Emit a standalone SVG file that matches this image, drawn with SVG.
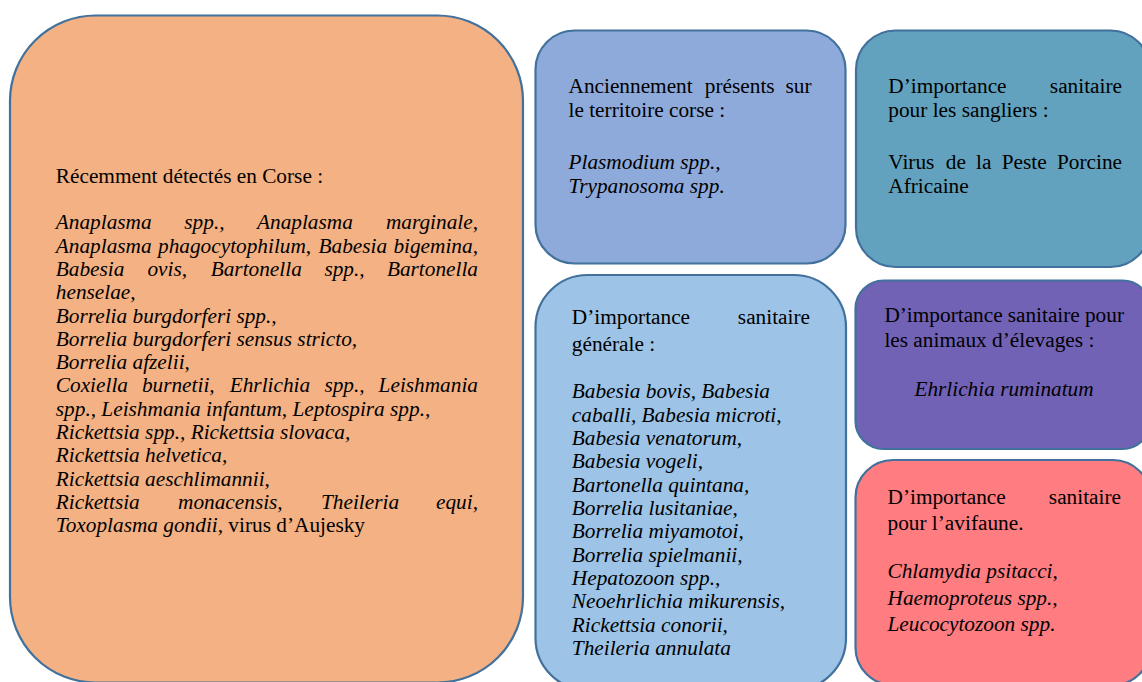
<svg xmlns="http://www.w3.org/2000/svg" width="1142" height="682" viewBox="0 0 1142 682">
<style>
.box{stroke:#41719C;stroke-width:2.2}
text{font-family:"Liberation Serif","Times New Roman",serif;font-size:21.3px;fill:#000}
.i{font-style:italic}
.e{text-anchor:end}
.m{text-anchor:middle}
</style>
<rect width="1142" height="682" fill="#fff"/>
<g id="recemment">
<rect class="box" x="10" y="15.5" width="513" height="667" rx="85.5" fill="#F4B183"/>
<text x="55.8" y="182.7">Récemment détectés en Corse :</text>
<text class="i" y="229.3"><tspan x="55.8">Anaplasma</tspan><tspan x="184.3">spp.,</tspan><tspan x="257">Anaplasma</tspan></text>
<text class="i e" x="478" y="229.3">marginale,</text>
<text class="i" y="252.6"><tspan x="55.8">Anaplasma</tspan><tspan x="158">phagocytophilum,</tspan><tspan x="318.5">Babesia</tspan></text>
<text class="i e" x="478" y="252.6">bigemina,</text>
<text class="i" y="275.9"><tspan x="55.8">Babesia</tspan><tspan x="147.4">ovis,</tspan><tspan x="210.7">Bartonella</tspan><tspan x="324.4">spp.,</tspan></text>
<text class="i e" x="478" y="275.9">Bartonella</text>
<text class="i" x="55.8" y="299.2">henselae,</text>
<text class="i" x="55.8" y="322.5">Borrelia burgdorferi spp.,</text>
<text class="i" x="55.8" y="345.8">Borrelia burgdorferi sensus stricto,</text>
<text class="i" x="55.8" y="369.1">Borrelia afzelii,</text>
<text class="i" y="392.4"><tspan x="55.8">Coxiella</tspan><tspan x="141.9">burnetii,</tspan><tspan x="229.7">Ehrlichia</tspan><tspan x="324.4">spp.,</tspan></text>
<text class="i e" x="478" y="392.4">Leishmania</text>
<text class="i" x="55.8" y="415.7">spp., Leishmania infantum, Leptospira spp.,</text>
<text class="i" x="55.8" y="439">Rickettsia spp., Rickettsia slovaca,</text>
<text class="i" x="55.8" y="462.3">Rickettsia helvetica,</text>
<text class="i" x="55.8" y="485.6">Rickettsia aeschlimannii,</text>
<text class="i" y="508.9"><tspan x="55.8">Rickettsia</tspan><tspan x="178">monacensis,</tspan><tspan x="321">Theileria</tspan></text>
<text class="i e" x="478" y="508.9">equi,</text>
<text x="55.8" y="532.2"><tspan class="i">Toxoplasma gondii,</tspan> virus d’Aujesky</text>
</g>
<g id="anciennement">
<rect class="box" x="535.5" y="30.5" width="310" height="233" rx="39" fill="#8EAADB"/>
<text y="92.7"><tspan x="568.5">Anciennement</tspan><tspan x="704.8">présents</tspan></text>
<text class="e" x="811.5" y="92.7">sur</text>
<text x="568.5" y="116.7">le territoire corse :</text>
<text class="i" x="568.5" y="169">Plasmodium spp.,</text>
<text class="i" x="568.5" y="193">Trypanosoma spp.</text>
</g>
<g id="sangliers">
<rect class="box" x="856" y="30.5" width="294" height="236.5" rx="39.5" fill="#62A2BE"/>
<text x="888.3" y="92.7">D’importance</text>
<text class="e" x="1122" y="92.7">sanitaire</text>
<text x="888.3" y="116.7">pour les sangliers :</text>
<text y="169"><tspan x="888.3">Virus</tspan><tspan x="945.8">de</tspan><tspan x="976.1">la</tspan><tspan x="1001.7">Peste</tspan></text>
<text class="e" x="1122" y="169">Porcine</text>
<text x="888.3" y="193">Africaine</text>
</g>
<g id="generale">
<rect class="box" x="535.5" y="275" width="310.5" height="415" rx="52" fill="#9DC3E6"/>
<text x="571.8" y="324.3">D’importance</text>
<text class="e" x="810" y="324.3">sanitaire</text>
<text x="571.8" y="350.5">générale :</text>
<text class="i" x="571.8" y="398.3">Babesia bovis, Babesia</text>
<text class="i" x="571.8" y="421.6">caballi, Babesia microti,</text>
<text class="i" x="571.8" y="444.9">Babesia venatorum,</text>
<text class="i" x="571.8" y="468.3">Babesia vogeli,</text>
<text class="i" x="571.8" y="491.6">Bartonella quintana,</text>
<text class="i" x="571.8" y="514.9">Borrelia lusitaniae,</text>
<text class="i" x="571.8" y="538.3">Borrelia miyamotoi,</text>
<text class="i" x="571.8" y="561.6">Borrelia spielmanii,</text>
<text class="i" x="571.8" y="584.9">Hepatozoon spp.,</text>
<text class="i" x="571.8" y="608.3">Neoehrlichia mikurensis,</text>
<text class="i" x="571.8" y="631.6">Rickettsia conorii,</text>
<text class="i" x="571.8" y="654.9">Theileria annulata</text>
</g>
<g id="elevages">
<rect class="box" x="855.5" y="280.5" width="295" height="168.5" rx="28" fill="#7262B6"/>
<text y="321.7"><tspan x="884.4">D’importance</tspan><tspan x="1007.7">sanitaire</tspan></text>
<text class="e" x="1124" y="321.7">pour</text>
<text x="884.4" y="347.3">les animaux d’élevages :</text>
<text class="i m" x="1004" y="396">Ehrlichia ruminatum</text>
</g>
<g id="avifaune">
<rect class="box" x="855.5" y="460" width="295" height="225" rx="37.5" fill="#FF7C80"/>
<text x="887.5" y="504">D’importance</text>
<text class="e" x="1121" y="504">sanitaire</text>
<text x="887.5" y="530">pour l’avifaune.</text>
<text class="i" x="887.5" y="578.3">Chlamydia psitacci,</text>
<text class="i" x="887.5" y="604.5">Haemoproteus spp.,</text>
<text class="i" x="887.5" y="630.7">Leucocytozoon spp.</text>
</g>
<g id="connectors"/>
</svg>
